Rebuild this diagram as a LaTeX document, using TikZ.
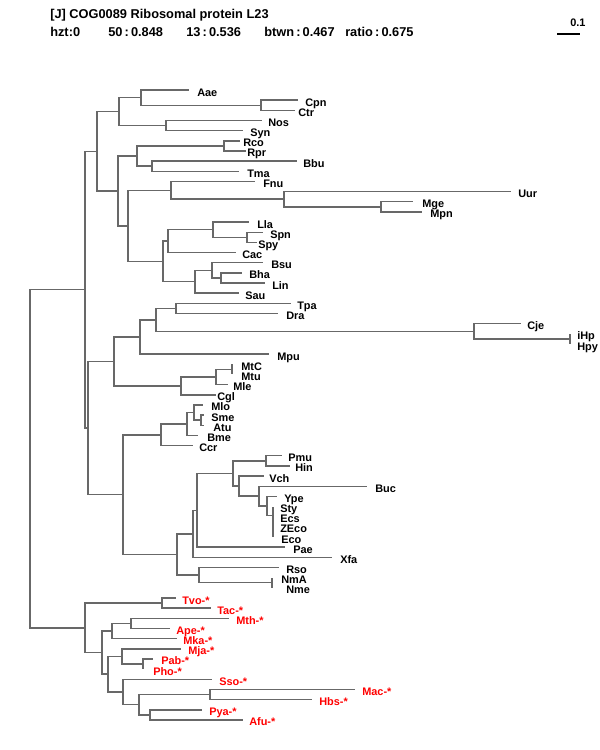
\documentclass[tikz,border=0pt]{standalone}
\usepackage{fontspec}
\setmainfont{Liberation Sans}
\usepackage{xcolor}
\definecolor{branchgray}{RGB}{104,104,104}
\tikzset{
  branch/.style={draw=branchgray, line width=1.1pt},
  taxon/.style={anchor=base west, inner sep=0pt, font=\fontsize{8.2}{9}\selectfont\bfseries},
  arch/.style={taxon, text=red},
  head/.style={anchor=base west, inner sep=0pt, font=\fontsize{9.6}{11}\selectfont\bfseries},
}

\begin{document}
\begin{tikzpicture}[x=0.75pt, y=-0.75pt]
    \useasboundingbox (0,0) rectangle (600,750);

    % Header
    \node[head] (title) at (50,18) {[J] COG0089 Ribosomal protein L23};
    \node[head] (hzt) at (50,36) {hzt:0};
    \node[head] (s50) at (108,36) {50\,:\,0.848};
    \node[head] (s13) at (186,36) {13\,:\,0.536};
    \node[head] (btwn) at (264,36) {btwn\,:\,0.467};
    \node[head] (ratio) at (345,36) {ratio\,:\,0.675};

    % Scale bar
    \coordinate (sb1) at (557,34);
    \coordinate (sb2) at (580,34);
    \draw[line width=0.8pt] (sb1) -- (sb2);
    \node[taxon, anchor=base west] (sblab) at (570,26) {0.1};

    % Bacteria: name / tip x / label x
    \foreach \lab/\tip/\lx [count=\i from 0] in {
        Aae/189/197, Cpn/298/305, Ctr/295/298, Nos/262/268, Syn/243/250,
        Rco/240/243, Rpr/246/247, Bbu/297/303, Tma/239/247, Fnu/255/263,
        Uur/511/518, Mge/413/422, Mpn/422/430, Lla/249/257, Spn/263/270,
        Spy/257/258, Cac/236/242, Bsu/263/271, Bha/242/249, Lin/265/272,
        Sau/239/245, Tpa/291/297, Dra/278/286, Cje/521/527, iHp/570/577,
        Hpy/570/577, Mpu/269/277, MtC/232/241, Mtu/232/241, Mle/228/233,
        Cgl/216/217, Mlo/203/211, Sme/204/211, Atu/204/213, Bme/198/207,
        Ccr/193/199, Pmu/282/288, Hin/290/295, Vch/264/269, Buc/367/375,
        Ype/277/284, Sty/273/280, Ecs/273/280, ZEco/273/280, Eco/273/281,
        Pae/285/293, Xfa/332/340, Rso/279/286, NmA/272/281, Nme/272/286}
    {
        \coordinate (\lab) at (\tip,{90+10.16*\i});
        \node[taxon] (t\lab) at (\lx,{96+10.16*\i}) {\lab};
    }

    % Archaea
    \foreach \lab/\tip/\lx [count=\i from 50] in {
        Tvo/176/182, Tac/211/217, Mth/229/236, Ape/170/176, Mka/177/183,
        Mja/181/188, Pab/153/161, Pho/143/153, Sso/212/219, Mac/355/362,
        Hbs/312/319, Pya/202/209, Afu/243/249}
    {
        \coordinate (\lab) at (\tip,{90+10.16*\i});
        \node[arch] (t\lab) at (\lx,{96+10.16*\i}) {\lab-*};
    }

    % Internal nodes
    \coordinate (nCC) at (261,105.25);
    \coordinate (nAC) at (141,97.6);
    \coordinate (nNS) at (166,125.55);
    \coordinate (nA1) at (119,111.6);
    \coordinate (nRR) at (224,145.9);
    \coordinate (nBT) at (152,166.2);
    \coordinate (nA2) at (137,156.05);
    \coordinate (nMM) at (381,206.85);
    \coordinate (nUM) at (284,199.2);
    \coordinate (nFU) at (171,190.3);
    \coordinate (nSS) at (247,237.3);
    \coordinate (nLS) at (213,229.7);
    \coordinate (nLC) at (168,241.15);
    \coordinate (nBL) at (221,277.95);
    \coordinate (nBB) at (212,270.3);
    \coordinate (nBS) at (195,281.75);
    \coordinate (nFi) at (163,261.45);
    \coordinate (nFF) at (128,225.9);
    \coordinate (nA3) at (118,191);
    \coordinate (nB1) at (97,151.3);

    \coordinate (nTD) at (176,308.45);
    \coordinate (nHp) at (570,338.9);
    \coordinate (nCH) at (474,331.3);
    \coordinate (nSp) at (156,319.9);
    \coordinate (nSM) at (140,337.05);
    \coordinate (nMt) at (232,369.4);
    \coordinate (nMl) at (216,377);
    \coordinate (nAc) at (181,385.9);
    \coordinate (nB2) at (114,361.5);
    \coordinate (nSA) at (201,420.2);
    \coordinate (nMS) at (194,412.6);
    \coordinate (nRh) at (187,424);
    \coordinate (nAl) at (161,434.8);
    \coordinate (nPH) at (266,460.85);
    \coordinate (nEc) at (273,515.5);
    \coordinate (nYE) at (267,505.95);
    \coordinate (nBY) at (259,496.1);
    \coordinate (nVB) at (239,486.1);
    \coordinate (nPV) at (233,473.5);
    \coordinate (nPP) at (197,510.35);
    \coordinate (nPX) at (193,533.9);
    \coordinate (nNm) at (272,582.75);
    \coordinate (nRN) at (199,575.1);
    \coordinate (nGa) at (177,554.5);
    \coordinate (nPr) at (123,494.65);
    \coordinate (nB3) at (88,428.1);
    \coordinate (nBac) at (85,289.7);

    \coordinate (nTT) at (162,603.1);
    \coordinate (nMA) at (131,623.4);
    \coordinate (nMK) at (112,631);
    \coordinate (nPP2) at (143,664.05);
    \coordinate (nMP) at (122,656.4);
    \coordinate (nMH) at (210,694.5);
    \coordinate (nPA) at (150,714.85);
    \coordinate (nMHPA) at (139,704.7);
    \coordinate (nSM2) at (123,692);
    \coordinate (nEu) at (108,674.2);
    \coordinate (nEu2) at (102,652.6);
    \coordinate (nArc) at (85,627.85);

    \coordinate (root) at (30,458.8);

    % Branches
    \foreach \p/\c in {
        nCC/Cpn, nCC/Ctr, nAC/Aae, nAC/nCC, nNS/Nos, nNS/Syn, nA1/nAC, nA1/nNS,
        nRR/Rco, nRR/Rpr, nBT/Bbu, nBT/Tma, nA2/nRR, nA2/nBT,
        nMM/Mge, nMM/Mpn, nUM/Uur, nUM/nMM, nFU/Fnu, nFU/nUM,
        nSS/Spn, nSS/Spy, nLS/Lla, nLS/nSS, nLC/nLS, nLC/Cac,
        nBL/Bha, nBL/Lin, nBB/Bsu, nBB/nBL, nBS/nBB, nBS/Sau,
        nFi/nLC, nFi/nBS, nFF/nFU, nFF/nFi, nA3/nA2, nA3/nFF, nB1/nA1, nB1/nA3,
        nTD/Tpa, nTD/Dra, nHp/iHp, nHp/Hpy, nCH/Cje, nCH/nHp, nSp/nTD, nSp/nCH,
        nSM/nSp, nSM/Mpu, nMt/MtC, nMt/Mtu, nMl/nMt, nMl/Mle, nAc/nMl, nAc/Cgl,
        nB2/nSM, nB2/nAc,
        nSA/Sme, nSA/Atu, nMS/Mlo, nMS/nSA, nRh/nMS, nRh/Bme, nAl/nRh, nAl/Ccr,
        nPH/Pmu, nPH/Hin, nEc/Sty, nEc/Ecs, nEc/ZEco, nEc/Eco, nYE/Ype, nYE/nEc,
        nBY/Buc, nBY/nYE, nVB/Vch, nVB/nBY, nPV/nPH, nPV/nVB, nPP/nPV, nPP/Pae,
        nPX/nPP, nPX/Xfa, nNm/NmA, nNm/Nme, nRN/Rso, nRN/nNm, nGa/nPX, nGa/nRN,
        nPr/nAl, nPr/nGa, nB3/nB2, nB3/nPr, nBac/nB1, nBac/nB3,
        nTT/Tvo, nTT/Tac, nMA/Mth, nMA/Ape, nMK/nMA, nMK/Mka,
        nPP2/Pab, nPP2/Pho, nMP/Mja, nMP/nPP2, nMH/Mac, nMH/Hbs, nPA/Pya, nPA/Afu,
        nMHPA/nMH, nMHPA/nPA, nSM2/Sso, nSM2/nMHPA, nEu/nMP, nEu/nSM2,
        nEu2/nMK, nEu2/nEu, nArc/nTT, nArc/nEu2,
        root/nBac, root/nArc}
        \draw[branch] (\p) |- (\c);
\end{tikzpicture}
\end{document}
